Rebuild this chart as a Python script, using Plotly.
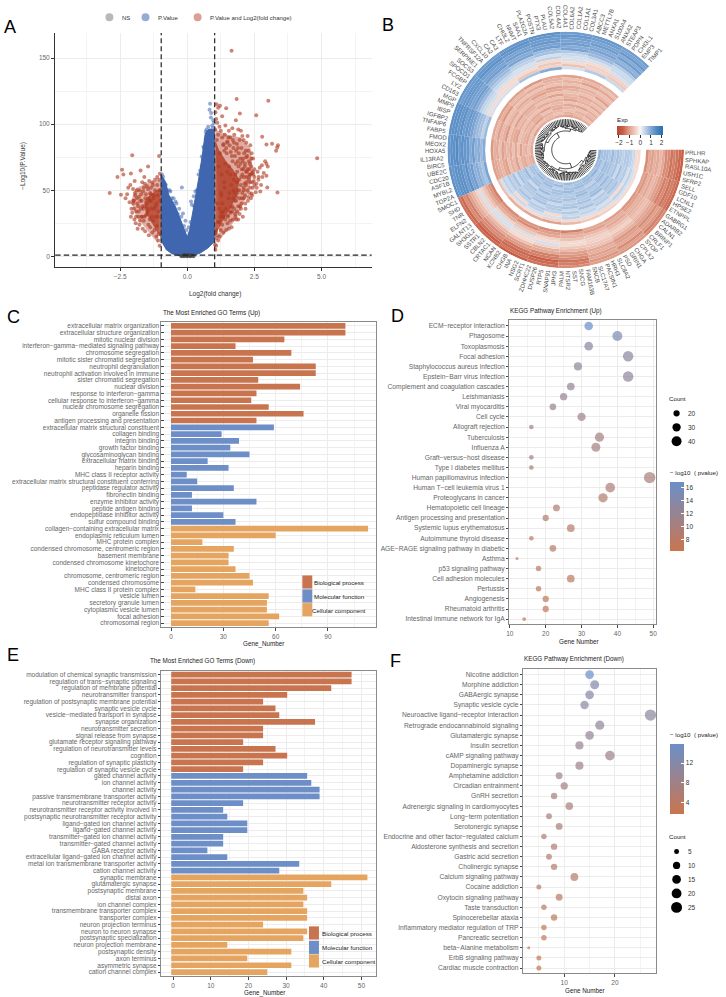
import numpy as np
import plotly.graph_objects as go

W, H = 726, 997
FONT = "Liberation Sans"

# ---------- Panel A data ----------
red_up_x = [1.65,1.84,3.02,2.57,1.09,1.22,1.45,1.15,1.81,1.96,4.84,2.79,2.95,3.16,3.38,3.35,3.31,3.36,2.98,2.72,2.55,2.40,1.05,1.08,1.12,1.20,1.04,1.30,1.42,1.55,1.68,1.75,1.90,2.00,2.05,2.25,2.10,2.20,2.35,2.28,2.40,2.45,1.95,1.85,1.70,1.60,1.50,1.40,1.30,1.25,1.35,1.15,1.10,1.45,1.58,1.72,1.82,1.92,2.02,2.12,2.20,2.30,2.15,2.25,2.38,2.50,2.62,2.70,2.78,2.90,2.95,3.00,2.85,2.95,2.65,2.75,2.50,2.42,2.30,2.20,2.12,2.05,2.10,2.25,2.35,2.15,2.05,1.95,2.02,1.90,1.85,1.95,1.80,1.70,1.75,1.65,1.55,1.60,1.50,1.45,1.35,1.30,1.20,1.15,1.08,1.05,1.25,1.10,2.08,2.18,1.88,1.78,1.62,1.48,1.38,2.32,2.22,2.42,2.48,2.58,1.98,2.03,1.93,1.87,1.77,1.67,1.52,1.33,1.18,1.28,1.06,1.13,1.03,1.63,1.83,2.13,2.27,2.37,2.45,2.33,2.17,2.07,
1.22,1.34,1.47,1.53,1.66,1.74,1.81,1.89,1.97,2.06,2.14,2.23,2.31,2.39,2.46,1.28,1.41,1.56,1.69,1.79,1.91,2.01,2.09,2.19,2.29,2.36,2.44,1.37,1.49,1.61,1.73,1.86,1.99,2.11,2.21,2.34,1.26,1.39,1.54,1.64,1.76,1.84,1.94,2.04,2.16,2.26,2.41,1.17,1.31,1.44,1.59,1.71,1.82,1.96,1.57,1.68,1.78,1.88,1.72,1.83,2.0,2.11,1.9,1.62,1.51,1.41,1.33,1.23,1.14,1.07,2.19,2.31,2.5,2.59,2.66,2.8,1.12,1.19,1.27,1.36]
red_up_y = [155.5,119,117.7,106.8,115,114,112,112.5,103,108,74.3,90.5,84.7,85.2,84,82.4,80,48.4,52.2,49,48.5,47.5,109,104,101,98,96,106,99,95,97,92,96,95,91,91,88,86,84,80,78,74,88,85,88,90,87,92,90,95,85,92,88,82,84,82,80,78,82,78,75,72,70,66,68,66,64,67,69,72,70,68,63,61,58,54,60,56,60,56,60,62,52,50,52,46,48,44,40,38,34,32,30,28,36,22,21,27,25,20,18,24,15,12,8,5,20,14,74,80,72,76,79,86,80,62,64,63,57,55,70,66,58,48,42,34,31,30,26,33,18,16,9,37,28,55,45,44,64,70,36,30,
78,84,78,90,76,86,70,82,74,72,68,76,66,74,62,62,70,68,72,62,68,60,66,64,58,62,52,56,64,62,58,64,54,50,60,56,48,52,44,54,48,56,50,44,40,42,46,68,40,36,34,44,42,38,48,38,32,50,50,45,36,44,28,33,30,28,34,30,26,20,54,48,54,52,60,60,40,36,46,30]
red_dn_x = [-2.89,-2.60,-2.43,-2.05,-2.38,-2.47,-2.10,-1.74,-1.46,-1.05,-1.02,-2.15,-2.00,-2.20,-2.12,-2.02,-1.95,-1.88,-1.80,-1.72,-1.65,-1.58,-1.50,-1.42,-1.35,-1.28,-1.20,-1.12,-1.05,-1.60,-1.68,-1.75,-1.83,-1.90,-1.98,-2.05,-1.70,-1.62,-1.55,-1.45,-1.38,-1.30,-1.22,-1.15,-1.08,-1.40,-1.48,-1.52,-1.33,-1.25,-1.18,-1.10,-1.03,-1.92,-1.85,-1.78,-1.66,-1.57,-2.30,-2.24,-1.96,-1.43,-1.27,-1.13,-1.06,-1.64,-1.36,-1.02,
-1.04,-1.12,-1.2,-1.3,-1.38,-1.46,-1.54,-1.62,-1.7,-1.78,-1.86,-1.94,-2.02,-1.1,-1.25,-1.41,-1.56,-1.73,-1.88,-2.08,-1.15,-1.35,-1.5,-1.67,-1.82,-1.99,-1.08,-1.23,-1.44,-1.6,-1.76,-1.91,-2.1,-1.17,-1.32,-1.47,-1.59,-1.69,-1.81,-1.97]
red_dn_y = [48,60,65.5,76.6,62,46.6,62.7,65,68,75.9,62.5,41,42,52,54,51,48,50,45,47,49,55,53,57,52,54,58,60,58,60,56,42,38,34,36,33,30,27,31,24,22,18,20,15,12,28,36,40,36,44,38,30,8,25,21,24,21,19,44,47,57,16,27,23,17,36,47,42,
50,54,50,56,48,51,47,52,42,50,40,46,40,46,46,42,44,36,44,36,40,42,32,38,30,42,34,36,44,30,27,30,30,30,30,34,38,30,34,28]
blue_env_x = [-0.975,-0.975,-0.975,-0.815,-0.69,-0.44,-0.26,-0.10,0.0,0.09,0.2,0.32,0.44,0.57,0.67,0.81,1.01,1.01,1.01,0.77,0.48,0.17,-0.2,-0.57,-0.81]
blue_env_y = [11.3,42.8,61.7,56.7,46.6,37.8,27.7,20.2,14.6,20.2,32.8,45.4,60.5,78.1,93.2,96.3,95.8,42.8,11.3,6.3,2.5,0.25,0.25,2,5.5]
blue_pt_x = [0.85,0.83,0.89,0.69,0.97,-0.20,0.30,0.24,0.14,-0.51,-0.44,-0.63,-0.81,-0.94,-0.75,-0.81,-0.16,-0.07,-0.03,0.17,0.54,0.60,0.69,0.54,0.42,0.93,0.78,0.88,0.95,-0.90,-0.86,-0.72,-0.58,-0.52,-0.35,-0.30,-0.22,-0.12,0.06,0.12,0.26,0.36,0.48,0.62,0.74,-0.66,-0.40,0.72,0.92,1.00]
blue_pt_y = [115.5,111,108.5,94.5,103,52.2,49,45.4,41.6,44,41.6,49,54.4,62,50,54,32.5,27,20,39,75.6,83,88.7,68,62,99,98,105,97,60,46,42,44,36,32,36,30,23,22,26,38,50,65,82,92,50,40,96,92,101]
ns_x = [-0.22,-0.16,-0.09,-0.03,0.04,0.1,0.17,0.23,-0.12,0.0,0.12]
ns_y = [0.2,0.6,1.0,0.4,1.1,0.5,0.9,0.2,0.1,0.1,0.1]
red_up_core_x = [1.04,1.04,1.2,1.45,1.7,1.95,1.85,1.6,1.35,1.15]
red_up_core_y = [14,88,80,72,66,58,46,36,28,20]
red_dn_core_x = [-0.98,-0.98,-1.3,-1.6,-1.55,-1.3,-1.05]
red_dn_core_y = [14,52,48,42,33,24,16]
red_up_haze_x = [1.04,1.5,2.0,2.35,2.45,2.3,2.05,1.8,1.5,1.2]
red_up_haze_y = [96,92,90,82,65,50,38,28,20,12]
red_dn_haze_x = [-0.98,-1.4,-1.9,-2.1,-1.9,-1.5,-1.1]
red_dn_haze_y = [58,56,52,42,30,20,10]

# ---------- Panel B data ----------
genes_up = ["TIMP1","EMP3","CHI3L1","PDPN","STEAP3","ANXA2","S100A4","ANXA1","METTL7B","ABCC3","COL3A1","COL1A1","COL1A2","COL6A2","COL4A1","COL4A2","COL5A2","PLAU","PTX3","POSTN","PLA2G2A","SAA1","NNMT","CHI3L2","LTF","CA3","CA2","CXCL10","TNFRSF12A","SERPINE1","SOCS3","SPOCD1","FCGBP","LYZ","CD163","MGP","MMP9","IBSP","IGFBP2","TNFAIP6","FABP5","FMOD","MEOX2","HOXA5","IL13RA2","BIRC5","UBE2C","CDC20","ASF1B","MYBL2","TOP2A"]
genes_down = ["SMOC1","SHD","TNR","ELFN2","GALNT13","SH3GL2","SSTR1","CBLN2","CRTAC1","NCAN","KCNB2","CHGB","INA","NSG2","SCRT1","ZDHHC22","DUSP26","RTP5","SNAP91","JPH3","PALM","NTSR2","SST","SNCG","FAM163B","SNCB","SLC17A7","PACSIN1","HRH3","SLC8A2","PSD","GRIN1","CHGA","CPLX2","SYOP","CRLF1","BRINP1","CALN1","ADARB2","GABRG1","ETNPPL","HPSE2","LCNL1","GDF10","SELL","SFRP2","USH1C","RASL10A","SPHKAP","PRLHR"]
outer_up = [
[12,13,12,14,13,12,13,14,13,14],[11,12,13,13,14,13,12,14,14,13],[13,11,12,12,13,14,13,14,14,14],
[10,12,11,13,11,12,13,13,15,14],[12,10,12,11,12,11,12,14,13,14],[9,11,10,12,10,12,11,12,14,12],
[10,9,11,8,11,9,12,13,13,14],[6,8,6,7,6,8,10,12,13,11],[4,5,4,3,5,6,8,11,10,12],
[4,3,3,5,3,4,5,9,12,9],[3,-3,3,-3,3,3,4,8,9,10],[-4,-4,-3,-5,-3,-3,3,7,10,8],
[-5,-4,-6,-4,-5,-3,-3,5,8,7],[4,6,3,10,7,3,3,8,10,11]]
inner_up = [
[-8,-9,-10,-9,-11,-10,-10,-9,-11,-10],[-6,-7,-6,-8,-6,-7,-8,-7,-8,-9],[-9,-10,-8,-7,-9,-8,-11,-10,-9,-8],
[-6,-6,-6,-6,-6,-6,-6,-7,-6,-7],[-7,-8,-9,-10,-8,-9,-7,-8,-10,-9],[-10,-7,-8,-9,-10,-7,-9,-11,-8,-10],
[-6,-6,-6,-6,-7,-6,-6,-6,-7,-6],[-8,-9,-7,-10,-8,-9,-10,-8,-9,-8],[-6,-7,-8,-6,-6,-8,-7,-9,-6,-7],
[-9,-8,-10,-8,-9,-7,-8,-10,-9,-10],[-6,-6,-6,-7,-6,-6,-6,-6,-6,-6],[-8,-10,-9,-8,-10,-9,-8,-7,-10,-8],
[-7,-6,-7,-9,-6,-8,-7,-8,-7,-9],[-9,-8,-6,-7,-8,-10,-9,-9,-8,-7],[-6,-7,-8,-6,-7,-6,-6,-6,-6,-8],
[-8,-9,-10,-9,-8,-9,-10,-8,-9,-9]]
outer_down = [
[-14,-15,-16,-14,-12,-10,-11,-12,-15,-16],[-15,-16,-14,-15,-13,-11,-10,-13,-14,-15],[-12,-14,-15,-16,-14,-9,-12,-11,-13,-14],
[-13,-12,-14,-13,-12,-10,-9,-10,-14,-13],[-10,-12,-11,-13,-11,-8,-10,-12,-12,-14],[-8,-9,-10,-9,-10,-9,-11,-10,-13,-12],
[-6,-7,-6,-8,-7,-6,-8,-9,-11,-12],[-4,-4,-3,-4,-5,-5,-6,-7,-10,-9],[3,3,-3,3,-3,-4,-4,-6,-8,-7],
[-4,3,3,-3,-3,-4,-5,-7,-7,-9],[-6,-4,-5,-4,-6,-5,-7,-8,-9,-8],[-9,-8,-7,-9,-8,-7,-9,-8,-8,-10],
[-11,-10,-12,-10,-9,-10,-8,-10,-11,-9],[-13,-12,-11,-12,-13,-9,-10,-11,-10,-12]]
inner_down = [
[-6,-8,-9,-10,-7,-5,-4,-3,-3,-3],[3,-3,-3,-4,-3,-3,-3,3,3,-3],[5,4,3,3,5,3,4,5,5,4],
[4,-3,5,-3,4,5,3,-3,3,5],[6,5,6,5,6,4,6,5,6,6],[5,7,4,6,4,7,5,7,5,6],
[7,5,7,6,7,5,6,6,7,5],[4,6,6,4,6,7,4,7,4,6],[7,6,7,7,5,6,8,6,7,7],
[6,7,5,6,7,6,7,8,6,6],[6,4,8,6,6,8,6,6,7,8],[8,7,6,7,6,7,7,8,7,6],
[5,7,6,7,8,6,5,7,8,7],[7,6,8,5,7,8,7,6,6,7],[7,8,7,8,6,7,8,9,8,7],[6,7,7,6,8,7,8,7,8,9]]

# ---------- Panel C data ----------
c_bp_terms = ["extracellular matrix organization","extracellular structure organization","mitotic nuclear division","interferon−gamma−mediated signaling pathway","chromosome segregation","mitotic sister chromatid segregation","neutrophil degranulation","neutrophil activation involved in immune","sister chromatid segregation","nuclear division","response to interferon−gamma","cellular response to interferon−gamma","nuclear chromosome segregation","organelle fission","antigen processing and presentation"]
c_bp_vals = [100,100,65,37,69,47,83,83,50,74,49,46,56,76,49]
c_mf_terms = ["extracellular matrix structural constituent","collagen binding","integrin binding","growth factor binding","glycosaminoglycan binding","extracellular matrix binding","heparin binding","MHC class II receptor activity","extracellular matrix structural constituent conferring","peptidase regulator activity","fibronectin binding","enzyme inhibitor activity","peptide antigen binding","endopeptidase inhibitor activity","sulfur compound binding"]
c_mf_vals = [59,29,39,34,45,21,33,9,15,36,12,49,12,30,37]
c_cc_terms = ["collagen−containing extracellular matrix","endoplasmic reticulum lumen","MHC protein complex","condensed chromosome, centromeric region","basement membrane","condensed chromosome kinetochore","kinetochore","chromosome, centromeric region","condensed chromosome","MHC class II protein complex","vesicle lumen","secretory granule lumen","cytoplasmic vesicle lumen","focal adhesion","chromosomal region"]
c_cc_vals = [113,60,18,36,33,33,37,45,47,14,56,55,55,62,56]

# ---------- Panel D data ----------
d_terms = ["ECM−receptor interaction","Phagosome","Toxoplasmosis","Focal adhesion","Staphylococcus aureus infection","Epstein−Barr virus infection","Complement and coagulation cascades","Leishmaniasis","Viral myocarditis","Cell cycle","Allograft rejection","Tuberculosis","Influenza A","Graft−versus−host disease","Type I diabetes mellitus","Human papillomavirus infection","Human T−cell leukemia virus 1","Proteoglycans in cancer","Hematopoietic cell lineage","Antigen processing and presentation","Systemic lupus erythematosus","Autoimmune thyroid disease","AGE−RAGE signaling pathway in diabetic","Asthma","p53 signaling pathway","Cell adhesion molecules","Pertussis","Angiogenesis","Rheumatoid arthritis","Intestinal immune network for IgA"]
d_counts = [32,40,32,43,29,43,27,25,22,30,16,35,34,16,16,49,38,36,23,20,27,16,22,12,18,27,18,20,20,14]
d_logp = [16.9,15,13.5,13.3,13,12.9,12.5,12.1,11.8,11.3,11,10.6,10.5,10.3,10.1,10,9.6,9.4,9.2,9,8.8,8.6,8.4,8.2,8,7.8,7.5,7.2,7,6.5]

# ---------- Panel E data ----------
e_bp_terms = ["modulation of chemical synaptic transmission","regulation of trans−synaptic signaling","regulation of membrane potential","neurotransmitter transport","regulation of postsynaptic membrane potential","synaptic vesicle cycle","vesicle−mediated transport in synapse","synapse organization","neurotransmitter secretion","signal release from synapse","glutamate receptor signaling pathway","regulation of neurotransmitter levels","cognition","regulation of synaptic plasticity","regulation of synaptic vesicle cycle"]
e_bp_vals = [47.4,47.4,42,30.3,23.9,27.2,28.2,37.7,23.9,23.9,18.6,27.2,30.3,23.9,18.6]
e_mf_terms = ["gated channel activity","ion channel activity","channel activity","passive transmembrane transporter activity","neurotransmitter receptor activity","neurotransmitter receptor activity involved in","postsynaptic neurotransmitter receptor activity","ligand−gated ion channel activity","ligand−gated channel activity","transmitter−gated ion channel activity","transmitter−gated channel activity","GABA receptor activity","extracellular ligand−gated ion channel activity","metal ion transmembrane transporter activity","cation channel activity"]
e_mf_vals = [35.6,36.7,38.9,38.9,18.6,13.3,14.4,19.7,19.7,13.3,13.3,9.1,14.4,33.5,28.2]
e_cc_terms = ["synaptic membrane","glutamatergic synapse","postsynaptic membrane","distal axon","ion channel complex","transmembrane transporter complex","transporter complex","neuron projection terminus","neuron to neuron synapse","postsynaptic specialization","neuron projection membrane","postsynaptic density","axon terminus","asymmetric synapse","cation channel complex"]
e_cc_vals = [51.6,42,34.6,35.6,34.6,35.6,35.6,23.9,35.6,34.6,14.4,31.4,19.7,31.4,25]

# ---------- Panel F data ----------
f_terms = ["Nicotine addiction","Morphine addiction","GABAergic synapse","Synaptic vesicle cycle","Neuroactive ligand−receptor interaction","Retrograde endocannabinoid signaling","Glutamatergic synapse","Insulin secretion","cAMP signaling pathway","Dopaminergic synapse","Amphetamine addiction","Circadian entrainment","GnRH secretion","Adrenergic signaling in cardiomyocytes","Long−term potentiation","Serotonergic synapse","Endocrine and other factor−regulated calcium","Aldosterone synthesis and secretion","Gastric acid secretion","Cholinergic synapse","Calcium signaling pathway","Cocaine addiction","Oxytocin signaling pathway","Taste transduction","Spinocerebellar ataxia","Inflammatory mediator regulation of TRP","Pancreatic secretion","beta−Alanine metabolism","ErbB signaling pathway","Cardiac muscle contraction"]
f_counts = [15,16,15,14,27,17,15,13,19,13,9,10,8,11,7,9,6,8,7,8,12,5,9,6,8,6,6,3,5,5]
f_logp = [15.8,12.2,11.6,11.2,10.8,10.2,9.8,9.2,8.8,8.4,8,7.6,7.2,6.9,6.6,6.3,6,5.7,5.4,5.1,4.8,4.5,4.2,3.9,3.6,3.3,3,2.7,2.4,1.8]

BLUE, ORANGE = "#6b8fc8", "#c9754f"
BP, MF, CC = "#c8744f", "#6d8ec6", "#e5a560"
GRAD = [[0, ORANGE], [1, BLUE]]
TXT = "#666666"
GRID = "#ececec"

def xd(l, r): return [l / W, r / W]
def yd(t, b): return [1 - b / H, 1 - t / H]
def px(x): return x / W
def py(y): return 1 - y / H

def size_d(c): return np.interp(c, [12, 20, 30, 40, 49], [3, 6.3, 8.3, 10, 11.4])
def size_f(c): return np.interp(c, [3, 5, 10, 15, 20, 27], [3, 5, 7.3, 8.7, 9.9, 11.4])

fig = go.Figure()

# ---------- A traces ----------
fig.add_trace(go.Scatter(x=blue_env_x, y=blue_env_y, mode="lines", fill="toself", fillcolor="#3f66ae", line=dict(width=1, color="#3f66ae"), hoverinfo="skip", xaxis="x", yaxis="y"))
fig.add_trace(go.Scatter(x=red_up_haze_x, y=red_up_haze_y, mode="lines", fill="toself", fillcolor="rgba(176,58,34,0.42)", line=dict(width=0), hoverinfo="skip", xaxis="x", yaxis="y"))
fig.add_trace(go.Scatter(x=red_dn_haze_x, y=red_dn_haze_y, mode="lines", fill="toself", fillcolor="rgba(176,58,34,0.38)", line=dict(width=0), hoverinfo="skip", xaxis="x", yaxis="y"))
fig.add_trace(go.Scatter(x=red_up_core_x, y=red_up_core_y, mode="lines", fill="toself", fillcolor="rgba(176,58,34,0.8)", line=dict(width=0), hoverinfo="skip", xaxis="x", yaxis="y"))
fig.add_trace(go.Scatter(x=red_dn_core_x, y=red_dn_core_y, mode="lines", fill="toself", fillcolor="rgba(176,58,34,0.75)", line=dict(width=0), hoverinfo="skip", xaxis="x", yaxis="y"))
fig.add_trace(go.Scatter(x=blue_pt_x, y=blue_pt_y, mode="markers", marker=dict(size=4, color="#3f66ae", opacity=0.55), xaxis="x", yaxis="y"))
fig.add_trace(go.Scatter(x=red_up_x, y=red_up_y, mode="markers", marker=dict(size=4, color="#b03a22", opacity=0.62), xaxis="x", yaxis="y"))
fig.add_trace(go.Scatter(x=red_dn_x, y=red_dn_y, mode="markers", marker=dict(size=4, color="#b03a22", opacity=0.62), xaxis="x", yaxis="y"))
fig.add_trace(go.Scatter(x=ns_x, y=ns_y, mode="markers", marker=dict(size=4, color="#444444", opacity=0.8), xaxis="x", yaxis="y"))

# ---------- B heat rings ----------
genes = genes_up + genes_down
STEP = 315 / len(genes)
def ring(mat, r_out, r_in, start, sector_w):
    th, rr, bb, cc = [], [], [], []
    dr = (r_out - r_in) / len(mat)
    for i, row in enumerate(mat):
        for j, v in enumerate(row):
            th.append(start + (j + 0.5) * sector_w)
            rr.append(dr)
            bb.append(r_out - (i + 1) * dr)
            cc.append(v / 10)
    return th, rr, bb, cc
sw_up = len(genes_up) * STEP / 10
sw_dn = len(genes_down) * STEP / 10
a_bound = 45 + len(genes_up) * STEP
parts = [ring(outer_up, 119, 81, 45, sw_up) + (sw_up,), ring(inner_up, 75.5, 33, 45, sw_up) + (sw_up,),
         ring(outer_down, 119, 81, a_bound, sw_dn) + (sw_dn,), ring(inner_down, 75.5, 33, a_bound, sw_dn) + (sw_dn,)]
HEAT = [[0, "#b9452f"], [0.14, "#c9634b"], [0.25, "#dd9a85"], [0.38, "#efc7ba"], [0.5, "#fbf6f4"], [0.62, "#bcd0e8"], [0.75, "#7ca5d3"], [0.86, "#4f88c2"], [1, "#2a6dad"]]
for k, (th, rr, bb, cc, sw) in enumerate(parts):
    m = dict(color=cc, colorscale=HEAT, cmin=-2.15, cmax=2.15, line=dict(width=0))
    if k == 0:
        m.update(showscale=True, colorbar=dict(orientation="h", x=640.8 / W, xanchor="center", y=py(125.7), yanchor="top",
                 lenmode="pixels", len=46.3, thicknessmode="pixels", thickness=8.6, tickvals=[-2, -1, 0, 1, 2],
                 ticktext=["−2", "−1", "0", "1", "2"], ticks="outside", ticklen=3, tickwidth=0.6, tickcolor="#333",
                 tickfont=dict(size=6.5, color="#333", family=FONT), outlinewidth=0, xpad=0, ypad=0))
    fig.add_trace(go.Barpolar(theta=th, r=rr, base=bb, width=[sw] * len(th), marker=m, subplot="polar", hoverinfo="skip"))

# dendrogram: hierarchical merge lines
splits = [0.5, 0.38, 0.6, 0.45, 0.55, 0.33, 0.62, 0.5, 0.42]
den_t, den_r = [], []
leaf_t = [45 + (i + 0.5) * STEP for i in range(len(genes))]
cnt = [0]
LEAF_END = 31
def build(lo, hi, r, depth):
    if hi - lo == 1:
        den_t.extend([leaf_t[lo], leaf_t[lo], None]); den_r.extend([r, LEAF_END, None]); return leaf_t[lo]
    if depth == 0:
        mid = len(genes_up)
    else:
        cnt[0] += 1
        mid = lo + max(1, min(hi - lo - 1, int(round((hi - lo) * splits[cnt[0] % len(splits)]))))
    step = 5 if depth == 0 else (2.5 if depth == 1 else (1.4 if depth < 3 else 0.7))
    nr = min(r + step, 27)
    a = build(lo, mid, nr, depth + 1)
    b = build(mid, hi, nr, depth + 1)
    arc = np.linspace(a, b, max(2, int(abs(b - a) / 2) + 2))
    den_t.extend(list(arc) + [None]); den_r.extend([r] * len(arc) + [None])
    c = (a + b) / 2
    den_t.extend([a, a, None, b, b, None]); den_r.extend([r, nr, None, r, nr, None])
    return c
root = build(0, len(genes), 14, 0)
fig.add_trace(go.Scatterpolar(theta=den_t, r=den_r, mode="lines", line=dict(color="#000000", width=0.75), subplot="polar", hoverinfo="skip", connectgaps=False))

# ---------- bars ----------
def bars(terms, vals, col, xa, ya, base=None):
    fig.add_trace(go.Bar(y=terms, x=vals, orientation="h", marker=dict(color=col, line=dict(width=0)), width=0.85, base=base, xaxis=xa, yaxis=ya))
bars(c_bp_terms, c_bp_vals, BP, "x2", "y2")
bars(c_mf_terms, c_mf_vals, MF, "x2", "y2")
bars(c_cc_terms, c_cc_vals, CC, "x2", "y2")
bars(e_bp_terms, [v + 0.5 for v in e_bp_vals], BP, "x4", "y4", -0.5)
bars(e_mf_terms, [v + 0.5 for v in e_mf_vals], MF, "x4", "y4", -0.5)
bars(e_cc_terms, [v + 0.5 for v in e_cc_vals], CC, "x4", "y4", -0.5)

# ---------- dots ----------
def cb(y_c, ln, cmin_vals):
    return dict(x=670.3 / W, xanchor="left", y=py(y_c), yanchor="middle", lenmode="pixels", len=ln, thicknessmode="pixels", thickness=14,
                tickvals=cmin_vals, ticks="inside", ticklen=3, tickcolor="#ffffff", tickwidth=0.6, outlinewidth=0, xpad=0, ypad=0,
                tickfont=dict(size=6.5, color="#333", family=FONT))
fig.add_trace(go.Scatter(x=d_counts, y=d_terms, mode="markers", xaxis="x3", yaxis="y3",
    marker=dict(size=size_d(d_counts), color=d_logp, colorscale=GRAD, cmin=6.3, cmax=16.9, line=dict(width=0), showscale=True,
                colorbar=cb(517, 69.4, [8, 10, 12, 14, 16]))))
fig.add_trace(go.Scatter(x=f_counts, y=f_terms, mode="markers", xaxis="x5", yaxis="y5",
    marker=dict(size=size_f(f_counts), color=f_logp, colorscale=GRAD, cmin=1.65, cmax=15.8, line=dict(width=0), showscale=True,
                colorbar=cb(780, 70, [4, 8, 12]))))

# ---------- layout ----------
def frame(dom_x, dom_y, rng_x, rng_y, terms, anchor_x, anchor_y, tick0, dtick, font_y, yticks="outside"):
    xa = dict(domain=xd(*dom_x), range=rng_x, anchor=anchor_y, showline=True, mirror=True, linecolor="#8a8a8a", linewidth=1, ticks="outside", ticklen=3, tickwidth=0.7,
              tickcolor="#444", tick0=tick0, dtick=dtick, zeroline=False, showgrid=True, gridcolor=GRID, gridwidth=0.8,
              minor=dict(dtick=dtick / 2, tick0=tick0, showgrid=True, gridcolor="#f3f3f3", gridwidth=0.5, ticks=""),
              tickfont=dict(size=6.5, color=TXT, family=FONT))
    ya = dict(domain=yd(*dom_y), range=rng_y, anchor=anchor_x, type="category", categoryorder="array", categoryarray=terms, showline=True, mirror=True, linecolor="#8a8a8a", linewidth=1,
              ticks=yticks, ticklen=2.5, tickwidth=0.7, tickcolor="#444", showgrid=True, gridcolor=GRID, gridwidth=0.8, zeroline=False, tickmode="array", tickvals=terms, ticktext=terms,
              tickfont=dict(size=font_y, color=TXT, family=FONT))
    return xa, ya

c_terms = c_bp_terms + c_mf_terms + c_cc_terms
e_terms = e_bp_terms + e_mf_terms + e_cc_terms
x2, y2 = frame((159.3, 375), (322.3, 627.7), [-5.5, 117.5], [44.59, -0.59], c_terms, "x2", "y2", 0, 30, 6.5, "inside")
x3, y3 = frame((509.3, 656.7), (320, 625), [9.9, 50.8], [29.52, -0.62], d_terms, "x3", "y3", 20, 10, 6.7)
x4, y4 = frame((159.3, 375.5), (671.7, 976.7), [-3.1, 54], [44.55, -0.53], e_terms, "x4", "y4", 0, 10, 6.5)
x5, y5 = frame((523.3, 656.7), (669.3, 974.3), [1.96, 28.1], [29.52, -0.59], f_terms, "x5", "y5", 10, 10, 6.7)

anns, shapes = [], []
def T(x, y, s, size=6.5, color="#333333", xa="center", angle=0):
    anns.append(dict(x=px(x), y=py(y), xref="paper", yref="paper", text=s, showarrow=False, xanchor=xa, yanchor="middle", textangle=angle,
                     font=dict(size=size, color=color, family=FONT), borderpad=0, borderwidth=0))

# panel letters
for s, x, y in [("A", 7, 26.7), ("B", 387, 25), ("C", 10.3, 317.3), ("D", 397, 316), ("E", 10.3, 656), ("F", 395, 661.5)]:
    T(x, y, s, size=18, color="#000")

# gene labels
for i, g in enumerate(genes):
    a = (leaf_t[i]) % 360
    rad = np.deg2rad(a)
    rc = 122 + len(g) * 3.6 / 2
    x, y = 565.8 + rc * np.cos(rad), 150 - rc * np.sin(rad)
    ang = 180 - a if 90 < a < 270 else (-a if a <= 90 else 360 - a)
    T(x, y, g, size=6, color="#4a4a4a", angle=ang)

# chart titles
T(209.5, 313, "The Most Enriched GO Terms (Up)", size=6.3, color="#222")
T(201, 662, "The Most Enriched GO Terms (Down)", size=6.3, color="#222")
T(556.5, 311, "KEGG Pathway Enrichment (Up)", size=6.3, color="#222")
T(574, 660, "KEGG Pathway Enrichment (Down)", size=6.3, color="#222")
T(262, 644.5, "Gene_Number", size=6.3, color="#222")
T(263, 993.6, "Gene_Number", size=6.3, color="#222")
T(579, 642, "Gene Number", size=6.3, color="#222")
T(585.5, 991.6, "Gene Number", size=6.3, color="#222")
T(213, 294, "Log2(fold change)", size=6.5, color="#333")
T(20, 166, "−Log10(P.Value)", size=6.5, color="#333", angle=-90)

# volcano legend
for cx, col, lab, lx in [(107, "#7f7f7f", "NS", 119.3), (143.3, "#3f66ae", "P.Value", 155.7), (195.7, "#c0503a", "P.Value and Log2(fold change)", 208)]:
    shapes.append(dict(type="circle", xref="paper", yref="paper", x0=px(cx - 4), x1=px(cx + 4), y0=py(17.3 + 4), y1=py(17.3 - 4), fillcolor=col, opacity=0.55, line=dict(width=0)))
    T(lx, 17.8, lab, size=6, color="#333", xa="left")

# volcano dashed lines
for v in [-0.97, 1.02]:
    shapes.append(dict(type="line", xref="x", yref="paper", x0=v, x1=v, y0=py(267.5), y1=py(33), line=dict(color="#333", width=1.3, dash="5px,3px")))
shapes.append(dict(type="line", xref="paper", yref="y", x0=px(52.5), x1=px(370.7), y0=1, y1=1, line=dict(color="#222", width=1.2, dash="5.5px,3px")))

# bar legends
for (x0, ys, lx, labs) in [(301, [576, 590, 603.7], [312.7, 312.7, 311], ["Biological process", "Molecular function", "Cellular component"]),
                           (307.7, [927.3, 941.7, 955.3], [321, 321, 321], ["Biological process", "Molecular function", "Cellular component"])]:
    for yy, c, lxx, s in zip(ys, [BP, MF, CC], lx, labs):
        shapes.append(dict(type="rect", xref="paper", yref="paper", x0=px(x0), x1=px(x0 + 10), y0=py(yy + 13.2), y1=py(yy), fillcolor=c, line=dict(width=0), layer="above"))
        T(lxx, yy + 7, s, size=6.2, color="#222", xa="left")

# count legends
T(670, 398.7, "Count", size=6.2, color="#222", xa="left")
for c, yy in zip([20, 30, 40], [413.7, 427.7, 441.7]):
    d = float(size_d(c)) / 2
    shapes.append(dict(type="circle", xref="paper", yref="paper", x0=px(677.3 - d), x1=px(677.3 + d), y0=py(yy + d), y1=py(yy - d), fillcolor="#000", line=dict(width=0)))
    T(688.3, yy, str(c), size=6.5, xa="left")
T(670.3, 472.7, "− log10  ( pvalue)", size=6.2, color="#222", xa="left")
T(670.3, 735.7, "− log10  ( pvalue)", size=6.2, color="#222", xa="left")
T(670, 837.7, "Count", size=6.2, color="#222", xa="left")
for c, yy in zip([5, 10, 15, 20, 25], [852.3, 866.3, 880.3, 894.3, 908.3]):
    d = float(size_f(c)) / 2
    shapes.append(dict(type="circle", xref="paper", yref="paper", x0=px(677.3 - d), x1=px(677.3 + d), y0=py(yy + d), y1=py(yy - d), fillcolor="#000", line=dict(width=0)))
    T(688.3, yy, str(c), size=6.5, xa="left")
T(617.7, 120, "Exp", size=6.2, color="#222", xa="left")

fig.update_layout(
    width=W, height=H, margin=dict(l=0, r=0, t=0, b=0), paper_bgcolor="white", plot_bgcolor="white", showlegend=False, barmode="overlay",
    font=dict(family=FONT), annotations=anns, shapes=shapes,
    xaxis=dict(domain=xd(52.5, 370.7), range=[-4.92, 6.87], anchor="y", showline=True, linecolor="#333", linewidth=1.3, zeroline=False, ticks="outside", ticklen=3, tickwidth=0.8, tickcolor="#333",
               tickmode="array", tickvals=[-2.5, 0, 2.5, 5], ticktext=["−2.5", "0.0", "2.5", "5.0"], showgrid=True, gridcolor=GRID, gridwidth=1.1,
               minor=dict(tickvals=[-3.75, -1.25, 1.25, 3.75, 6.25], showgrid=True, gridcolor="#f3f3f3", gridwidth=0.7, ticks=""), tickfont=dict(size=6.5, color=TXT, family=FONT)),
    yaxis=dict(domain=yd(33, 267.5), range=[-8.2, 169], anchor="x", showline=True, linecolor="#333", linewidth=1.3, zeroline=False, ticks="outside", ticklen=3, tickwidth=0.8, tickcolor="#333",
               tickvals=[0, 50, 100, 150], showgrid=True, gridcolor=GRID, gridwidth=1.1,
               minor=dict(tickvals=[25, 75, 125], showgrid=True, gridcolor="#f3f3f3", gridwidth=0.7, ticks=""), tickfont=dict(size=6.5, color=TXT, family=FONT)),
    xaxis2=x2, yaxis2=y2, xaxis3=x3, yaxis3=y3, xaxis4=x4, yaxis4=y4, xaxis5=x5, yaxis5=y5,
    polar=dict(domain=dict(x=xd(565.8 - 119, 565.8 + 119), y=yd(150 - 119, 150 + 119)), bgcolor="rgba(0,0,0,0)",
               radialaxis=dict(range=[0, 119], visible=False), angularaxis=dict(visible=False, direction="counterclockwise", rotation=0), bargap=0, barmode="overlay"),
)
fig.write_html("out.html", config={"displayModeBar": False}, post_script="document.body.style.margin='0';document.documentElement.style.overflow='hidden';")
